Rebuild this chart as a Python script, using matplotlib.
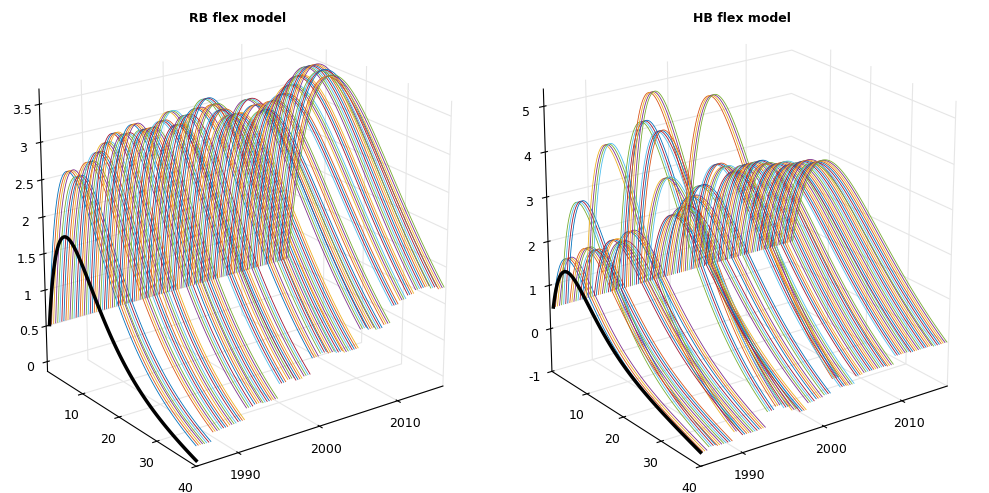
import numpy as np
import matplotlib
matplotlib.use("Agg")
import matplotlib.pyplot as plt
from matplotlib.ticker import FuncFormatter

# per-year curve parameters (peak height, peak maturity, end level)
years = list(range(1985, 2016))
rb_peak = [2.9, 2.8, 3.0, 3.1, 3.2, 3.3, 3.3, 3.4, 3.3, 3.3, 3.4, 3.5, 3.3, 3.4, 3.5, 3.6,
           3.5, 3.4, 3.3, 3.3, 3.5, 3.4, 3.3, 3.4, 3.5, 3.6, 3.7, 3.8, 3.8, 3.7, 3.6]
rb_mat = [8, 8, 9, 9, 9, 9, 10, 10, 10, 10, 11, 11, 11, 11, 12, 12,
          12, 12, 12, 12, 13, 13, 13, 13, 14, 14, 14, 14, 14, 14, 14]
hb_peak = [2.0, 3.3, 2.2, 2.1, 4.5, 2.3, 2.2, 2.4, 4.9, 5.5, 4.6, 3.5, 2.6, 2.8, 3.0, 3.2,
           5.2, 3.6, 3.5, 3.4, 3.5, 3.5, 3.5, 3.4, 3.4, 3.4, 3.3, 3.3, 3.3, 3.2, 3.2]
hb_mat = [6, 7, 7, 7, 8, 8, 8, 8, 9, 9, 9, 9, 9, 10, 10, 10,
          10, 10, 10, 11, 11, 11, 11, 11, 12, 12, 12, 12, 12, 12, 12]
rb_black = (2.0, 7.0, -0.1)
hb_black = (1.7, 6.0, -0.7)

matlab_colors = ['#0072BD', '#D95319', '#EDB120', '#7E2F8E', '#77AC30', '#4DBEEE', '#A2142F']
tau = np.linspace(1, 40, 120)


def curve(peak, mat, end, start=0.55):
    u = tau - 1
    m = mat - 1
    s = (u / m) * np.exp(1 - u / m)
    base = start + (end - start) * u / 39
    return base + (peak - start) * s


def draw(ax, peaks, mats, end, black, title, zt):
    k = 0
    for i, y in enumerate(years):
        for q in range(4):
            yy = y + q * 0.25
            ax.plot(tau, np.full_like(tau, yy), curve(peaks[i], mats[i], end),
                    color=matlab_colors[k % 7], lw=0.6)
            k += 1
    ax.plot(tau, np.full_like(tau, 1985), curve(*black), color='k', lw=2.5)
    ax.set_xlim(0, 40)
    ax.set_ylim(1985, 2016)
    ax.set_xticks([10, 20, 30, 40])
    ax.set_yticks([1990, 2000, 2010])
    ax.set_zticks(zt)
    ax.zaxis.set_major_formatter(FuncFormatter(lambda v, p: f'{v:g}'))
    ax.set_title(title, fontsize=9, fontweight='bold', y=1.02)
    ax.view_init(elev=22, azim=-36)
    ax.set_box_aspect((1, 1.15, 1.15))
    ax.zaxis.set_ticks_position('lower')
    ax.tick_params(labelsize=9, pad=0)
    for a in (ax.xaxis, ax.yaxis, ax.zaxis):
        a.set_pane_color((1, 1, 1, 0))
        a._axinfo['grid']['color'] = (0.9, 0.9, 0.9, 1)


fig = plt.figure(figsize=(9.89, 4.93), dpi=100)
ax1 = fig.add_axes([-0.04, 0.0, 0.56, 1.0], projection='3d')
draw(ax1, rb_peak, rb_mat, 0.0, rb_black, 'RB flex model',
     [0, 0.5, 1, 1.5, 2, 2.5, 3, 3.5])
ax2 = fig.add_axes([0.47, 0.0, 0.56, 1.0], projection='3d')
draw(ax2, hb_peak, hb_mat, -0.7, hb_black, 'HB flex model',
     [-1, 0, 1, 2, 3, 4, 5])
fig.savefig('out.png', dpi=100)
